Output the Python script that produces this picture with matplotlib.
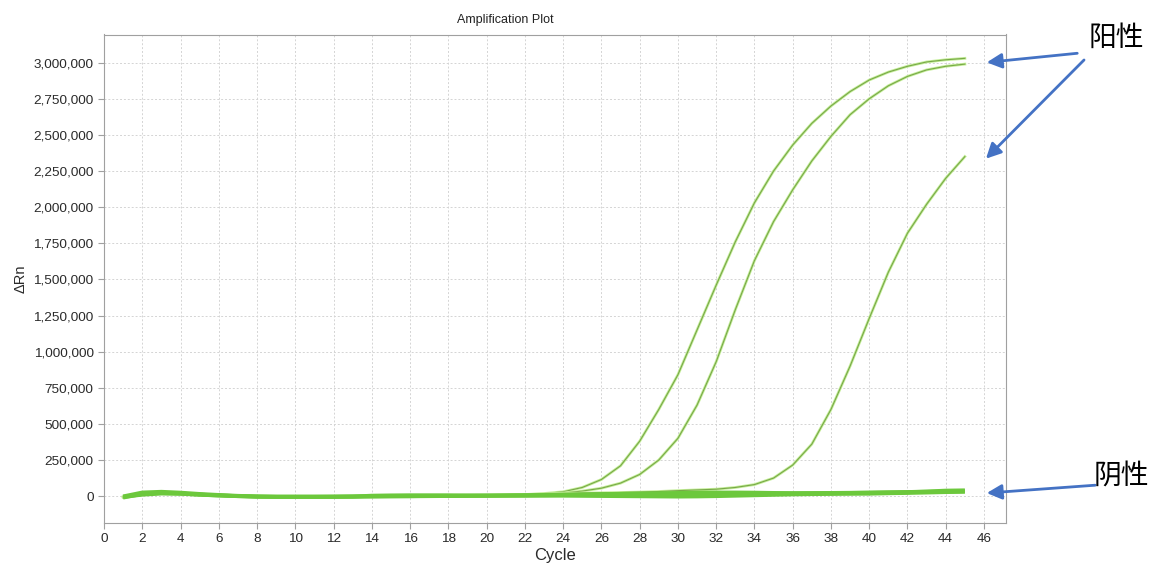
import matplotlib
matplotlib.use("Agg")
import matplotlib.pyplot as plt
from matplotlib.ticker import FuncFormatter, MultipleLocator

plt.rcParams['font.family'] = ['Liberation Sans', 'DejaVu Sans']

# 循环数
cycles = list(range(1, 46))

# 阳性样本 (3 条扩增曲线)
pos_a = [-8000, 22000, 28000, 22000, 12000, 6000, 0, -4000, -5000, -5000,
         -5000, -5000, -4000, -3000, -2000, -1000, 0, 1000, 2000, 4000,
         7000, 11000, 18000, 30000, 60000, 115000, 210000, 380000, 600000, 840000,
         1150000, 1460000, 1760000, 2030000, 2250000, 2430000, 2580000, 2700000, 2800000, 2880000,
         2935000, 2975000, 3005000, 3020000, 3030000]
pos_b = [-5000, 18000, 25000, 20000, 12000, 6000, 1000, -3000, -4000, -4000,
         -4000, -4000, -3000, -2000, -1000, 0, 1000, 2000, 3000, 5000,
         7000, 10000, 15000, 21000, 35000, 55000, 90000, 150000, 250000, 400000,
         630000, 930000, 1290000, 1630000, 1900000, 2120000, 2320000, 2490000, 2640000, 2750000,
         2840000, 2905000, 2950000, 2975000, 2990000]
pos_c = [-6000, 20000, 26000, 20000, 10000, 5000, 0, -4000, -5000, -5000,
         -5000, -5000, -4000, -3000, -2000, -1000, 0, 1000, 2000, 3000,
         5000, 8000, 12000, 18000, 21000, 23000, 25000, 28000, 32000, 38000,
         43000, 48000, 60000, 80000, 125000, 215000, 360000, 600000, 900000, 1230000,
         1550000, 1820000, 2020000, 2200000, 2350000]

# 阴性样本
neg_1 = [-10000, 15000, 22000, 18000, 10000, 4000, 0, -4000, -5000, -5000,
         -5000, -5000, -4000, -3000, -2000, -1000, 0, 1000, 2000, 3000,
         4000, 5000, 6000, 8000, 9000, 10000, 11000, 12000, 13000, 14000,
         15000, 16000, 17000, 18000, 19000, 20000, 21000, 22000, 23000, 24000,
         26000, 28000, 32000, 38000, 40000]
neg_2 = [-2000, 25000, 30000, 24000, 15000, 8000, 2000, -2000, -4000, -4000,
         -4000, -3000, -2000, -1000, 0, 0, 1000, 1000, 2000, 2000,
         3000, 3000, 3000, 3000, 2000, 1000, 0, -1000, -2000, -3000,
         -2000, 0, 3000, 6000, 9000, 12000, 14000, 15000, 16000, 17000,
         20000, 22000, 25000, 28000, 30000]
neg_3 = [-5000, 10000, 18000, 16000, 10000, 5000, 0, -3000, -4000, -4000,
         -4000, -4000, -3000, 3000, 5000, 6000, 6000, 6000, 5000, 5000,
         5000, 6000, 8000, 10000, 12000, 14000, 16000, 18000, 20000, 22000,
         24000, 25000, 25000, 24000, 22000, 20000, 20000, 21000, 22000, 24000,
         26000, 28000, 30000, 32000, 34000]

fig = plt.figure(figsize=(11.58, 5.64), dpi=100, facecolor='white')
ax = fig.add_axes([104 / 1158, 1 - 522.5 / 564, 902 / 1158, 488 / 564])

for p in [pos_a, pos_b, pos_c]:
    ax.plot(cycles, p, color='#c4ee98', lw=2.0)
    ax.plot(cycles, p, color='#78a848', lw=0.8)
for n in [neg_1, neg_2, neg_3]:
    ax.plot(cycles, n, color='#6cc83c', lw=2.8, solid_capstyle='butt')

ax.set_xlim(0, 47.15)
ax.set_ylim(-182500, 3195000)
ax.xaxis.set_major_locator(MultipleLocator(2))
ax.yaxis.set_major_locator(MultipleLocator(250000))
ax.yaxis.set_major_formatter(FuncFormatter(lambda v, p: f"{int(v):,}"))
ax.grid(True, color='#d4d4d4', linestyle=(0, (2, 2)), lw=0.7)
ax.set_axisbelow(True)
for s in ax.spines.values():
    s.set_color('#a0a0a0')
ax.tick_params(colors='#a0a0a0', labelcolor='#2a2a2a', labelsize=9.7, length=4)

ax.set_xlabel('Cycle', fontsize=12, color='#2a2a2a')
ax.xaxis.set_label_coords(0.5, -0.052)
ax.set_ylabel('ΔRn', fontsize=10.5, color='#2a2a2a')
ax.yaxis.set_label_coords(-0.085, 0.5)

fig.text(505 / 1158, 1 - 20 / 564, 'Amplification Plot', fontsize=9, ha='center', va='center', color='#222222')

# 标注
cjk = ['Noto Sans CJK SC', 'DejaVu Sans']
fig.text(1116, 564 - 38, '阳性', fontsize=20, family=cjk, ha='center', va='center',
         transform=None)
fig.text(1121, 564 - 476, '阴性', fontsize=20, family=cjk, ha='center', va='center',
         transform=None)
arrow = dict(arrowstyle='-|>,head_length=0.9,head_width=0.45', color='#4472c4', lw=2)
ax.annotate('', xy=(46.0, 3000000), xycoords='data',
            xytext=(1080, 564 - 53), textcoords='figure pixels', arrowprops=arrow)
ax.annotate('', xy=(46.0, 2322000), xycoords='data',
            xytext=(1086, 564 - 58), textcoords='figure pixels', arrowprops=arrow)
ax.annotate('', xy=(46.0, 20000), xycoords='data',
            xytext=(1098, 564 - 485), textcoords='figure pixels', arrowprops=arrow)

fig.savefig('out.png', dpi=100, facecolor='white')
